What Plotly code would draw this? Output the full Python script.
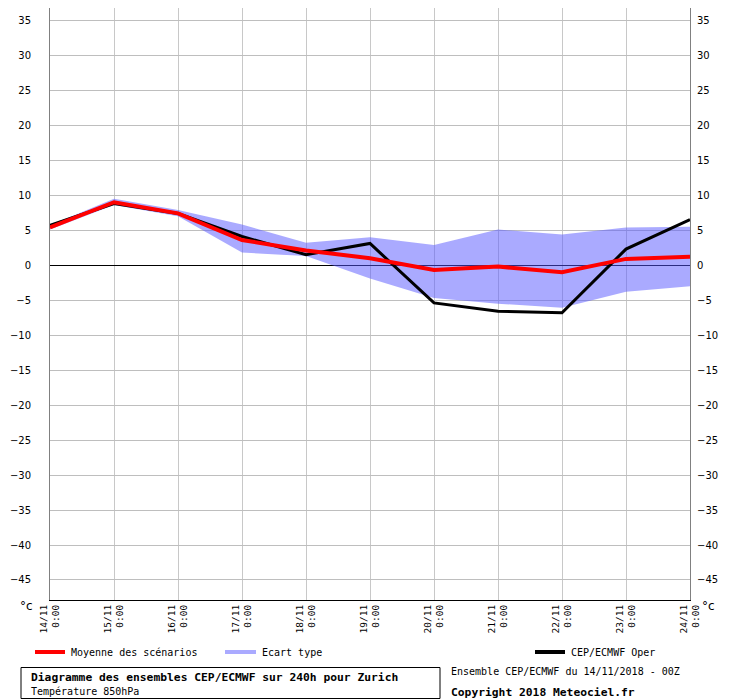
#ensemble temperature diagram (meteociel style) redrawn with plotly
import plotly.graph_objects as go

days = ["14/11", "15/11", "16/11", "17/11", "18/11", "19/11",
        "20/11", "21/11", "22/11", "23/11", "24/11"]
hours = ["0:00"] * len(days)

# ensemble mean, operational run and spread band (degC, 850hPa)
mean = [5.4, 9.0, 7.4, 3.6, 2.1, 1.0, -0.7, -0.2, -1.0, 0.9, 1.2]
oper = [5.7, 8.8, 7.4, 4.1, 1.5, 3.1, -5.4, -6.6, -6.8, 2.3, 6.5]
band_hi = [5.7, 9.5, 7.9, 5.8, 3.2, 4.0, 2.9, 5.1, 4.4, 5.4, 5.5]
band_lo = [5.1, 8.6, 7.0, 1.8, 1.3, -1.9, -4.7, -5.5, -6.1, -3.8, -3.0]

ytick_vals = list(range(-45, 40, 5))

# the page body has an 8px margin, so the figure is made 8px smaller
OFF = 8
W, H = 740 - OFF, 700 - OFF
L, R, T, B = 50 - OFF, 50, 0, 100
PW, PH = W - L - R, H - T - B

# page pixel -> paper coords
def px(x):
    return (x - OFF - L) / PW

def py(y):
    return (H - B - (y - OFF)) / PH

MONO = "DejaVu Sans Mono"
SANS = "DejaVu Sans"

xs = list(range(len(days)))

fig = go.Figure()

# spread band
fig.add_trace(go.Scatter(x=xs, y=band_hi, mode="lines", line=dict(width=0),
                         hoverinfo="skip", showlegend=False))
fig.add_trace(go.Scatter(x=xs, y=band_lo, mode="lines", line=dict(width=0),
                         fill="tonexty", fillcolor="rgba(85,85,255,0.5)",
                         showlegend=False))

# operational run
fig.add_trace(go.Scatter(x=xs, y=oper, mode="lines",
                         line=dict(color="black", width=3), showlegend=False))
# ensemble mean
fig.add_trace(go.Scatter(x=xs, y=mean, mode="lines",
                         line=dict(color="#ff0000", width=4), showlegend=False))

# dummy trace so the right axis gets drawn
fig.add_trace(go.Scatter(x=[0], y=[0], yaxis="y2", mode="markers",
                         marker=dict(opacity=0), hoverinfo="skip", showlegend=False))

yrange = [-47.86, 36.76]

fig.update_layout(
    width=W, height=H,
    margin=dict(l=L, r=R, t=T, b=B),
    paper_bgcolor="white", plot_bgcolor="white",
    xaxis=dict(
        range=[0, len(days) - 1],
        tickvals=xs,
        ticktext=[d + "<br>" + h for d, h in zip(days, hours)],
        tickangle=-90,
        tickfont=dict(family=MONO, size=9.5, color="black"),
        ticks="",
        ticklabelstandoff=0,
        showgrid=True, gridcolor="#c8c8c8", gridwidth=1,
        showline=True, linecolor="black", linewidth=1,
        zeroline=False,
    ),
    yaxis=dict(
        range=yrange,
        tickvals=ytick_vals,
        tickfont=dict(family=SANS, size=10, color="black"),
        ticks="",
        ticklabelstandoff=16,
        showgrid=True, gridcolor="#bebebe", gridwidth=1,
        zeroline=True, zerolinecolor="black", zerolinewidth=1,
        showline=True, linecolor="#808080", linewidth=1,
    ),
    yaxis2=dict(
        range=yrange,
        overlaying="y", side="right",
        tickvals=ytick_vals,
        tickfont=dict(family=SANS, size=10, color="black"),
        ticks="",
        ticklabelstandoff=4,
        showgrid=False, zeroline=False,
        showline=True, linecolor="#808080", linewidth=1,
    ),
)

shapes = []
annotations = []

# unit labels
for x in (26, 708):
    annotations.append(dict(x=px(x), y=py(606), xref="paper", yref="paper",
                            text="°c", showarrow=False, xanchor="center", yanchor="middle",
                            font=dict(family=SANS, size=12, color="black")))

# custom legend
legend_items = [
    (35, 65, "#ff0000", 4, "Moyenne des scénarios"),
    (225, 256, "#aaaaff", 4, "Ecart type"),
    (535, 565, "black", 4, "CEP/ECMWF Oper"),
]
for x0, x1, col, w, label in legend_items:
    shapes.append(dict(type="line", xref="paper", yref="paper",
                       x0=px(x0), x1=px(x1), y0=py(652), y1=py(652),
                       line=dict(color=col, width=w)))
    annotations.append(dict(x=px(x1 + 4), y=py(652), xref="paper", yref="paper",
                            text=label, showarrow=False, xanchor="left", yanchor="middle",
                            font=dict(family=MONO, size=10, color="black")))

# title box
shapes.append(dict(type="rect", xref="paper", yref="paper",
                   x0=px(21), x1=px(440), y0=py(667.5), y1=py(698.5),
                   line=dict(color="black", width=1)))
annotations.append(dict(x=px(29), y=py(677), xref="paper", yref="paper",
                        text="<b>Diagramme des ensembles CEP/ECMWF sur 240h pour Zurich</b>",
                        showarrow=False, xanchor="left", yanchor="middle",
                        font=dict(family=MONO, size=11.3, color="black")))
annotations.append(dict(x=px(29), y=py(691), xref="paper", yref="paper",
                        text="Température 850hPa",
                        showarrow=False, xanchor="left", yanchor="middle",
                        font=dict(family=MONO, size=10, color="black")))
annotations.append(dict(x=px(449), y=py(671), xref="paper", yref="paper",
                        text="Ensemble CEP/ECMWF du 14/11/2018 - 00Z",
                        showarrow=False, xanchor="left", yanchor="middle",
                        font=dict(family=MONO, size=10, color="black")))
annotations.append(dict(x=px(449), y=py(692), xref="paper", yref="paper",
                        text="<b>Copyright 2018 Meteociel.fr</b>",
                        showarrow=False, xanchor="left", yanchor="middle",
                        font=dict(family=MONO, size=11.3, color="black")))

fig.update_layout(shapes=shapes, annotations=annotations)

fig.write_html("out.html")
